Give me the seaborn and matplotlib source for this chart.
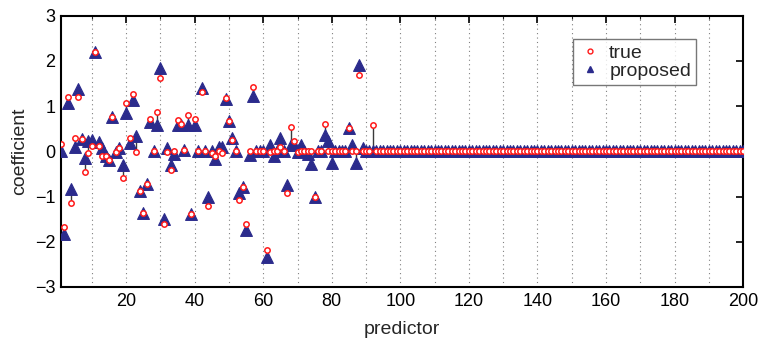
import matplotlib
matplotlib.use("Agg")
import matplotlib.pyplot as plt
import seaborn as sns
import pandas as pd
from matplotlib.lines import Line2D
from matplotlib.ticker import MultipleLocator
from matplotlib import font_manager

# ---- data ----
true_head = [0.17, -1.67, 1.20, -1.14, 0.30, 1.19, 0.28, -0.45, -0.04, 0.12,
             2.19, 0.11, -0.10, -0.11, -0.19, 0.76, -0.02, 0.08, -0.59, 1.07,
             0.29, 1.27, -0.01, -0.87, -1.37, -0.73, 0.71, 0.01, 0.86, 1.63,
             -1.61, -0.02, -0.42, 0.00, 0.70, 0.60, 0.03, 0.81, -1.39, 0.71,
             0.00, 1.30, 0.00, -1.22, -0.03, -0.10, 0.00, -0.04, 1.18, 0.68,
             0.25, 0.00, -1.07, -0.78, -1.61, 0.00, 1.41, 0.00, 0.00, 0.00,
             -2.18, -0.02, 0.00, 0.00, 0.10, 0.00, -0.93, 0.53, 0.23, -0.02,
             0.00, 0.00, 0.00, 0.00, -1.01, 0.00, 0.00, 0.61, 0.00, 0.00,
             0.00, 0.00, 0.00, 0.00, 0.51, 0.00, 0.00, 1.69, 0.00, 0.00,
             0.00, 0.59]
proposed_head = [0.00, -1.82, 1.07, -0.83, 0.10, 1.38, 0.28, -0.14, 0.22, 0.25,
                 2.19, 0.21, 0.08, -0.11, -0.19, 0.76, -0.02, 0.08, -0.30, 0.85,
                 0.18, 1.14, 0.33, -0.87, -1.37, -0.73, 0.64, 0.01, 0.59, 1.84,
                 -1.49, 0.08, -0.30, -0.06, 0.57, 0.57, 0.03, 0.57, -1.39, 0.59,
                 0.00, 1.40, 0.00, -1.00, 0.00, -0.17, 0.10, 0.10, 1.15, 0.68,
                 0.29, 0.00, -0.93, -0.78, -1.74, -0.09, 1.23, 0.00, 0.00, 0.00,
                 -2.33, 0.14, -0.11, 0.00, 0.29, 0.00, -0.74, 0.14, 0.14, -0.02,
                 0.14, 0.00, -0.05, -0.28, -1.01, 0.00, 0.00, 0.36, 0.22, -0.26,
                 0.00, 0.00, 0.00, 0.00, 0.51, 0.13, -0.26, 1.91, 0.07, 0.00,
                 0.00, 0.00]
n_predictors = 200
zero_tail = [0.0] * (n_predictors - len(true_head))   # predictors 93..200 read as 0
true_coef = true_head + zero_tail
proposed_coef = proposed_head + zero_tail
predictor = list(range(1, n_predictors + 1))
x_ticks = [20, 40, 60, 80, 100, 120, 140, 160, 180, 200]
y_ticks = [-3, -2, -1, 0, 1, 2, 3]

df = pd.DataFrame({"predictor": predictor, "true": true_coef, "proposed": proposed_coef})

sns.set_style("white")
names = {f.name for f in font_manager.fontManager.ttflist}
narrow = "Liberation Sans Narrow" if "Liberation Sans Narrow" in names else "Liberation Sans"
plt.rcParams["font.family"] = ["Liberation Sans", "DejaVu Sans"]

BLUE = "#2b2b8c"
RED = "#ff1a1a"

fig = plt.figure(figsize=(7.76, 3.41), dpi=100)
ax = fig.add_axes([0.0786, 0.1584, 0.879, 0.796])

# connecting lines between proposed and true
ax.vlines(df["predictor"], df["proposed"], df["true"], colors="#3a3a3a", lw=1.0, zorder=2)

sns.scatterplot(data=df, x="predictor", y="proposed", marker="^", s=72,
                color=BLUE, edgecolor=BLUE, linewidth=0.8, ax=ax, zorder=3, legend=False)
sns.scatterplot(data=df, x="predictor", y="true", marker="o", s=15,
                facecolor="white", edgecolor=RED, linewidth=1.1, ax=ax, zorder=4, legend=False)

ax.set_xlim(1, 200)
ax.set_ylim(-3, 3)
ax.set_xticks(x_ticks)
ax.set_yticks(y_ticks)
ax.xaxis.set_minor_locator(MultipleLocator(10))
ax.grid(False)
ax.grid(True, which="minor", axis="x", linestyle=(0, (1, 3)), color="#808080", lw=0.8)
ax.grid(True, which="major", axis="x", linestyle=(0, (1, 3)), color="#808080", lw=0.8)
ax.set_axisbelow(True)

ax.tick_params(axis="both", which="major", direction="in", length=5, width=1.2,
               top=True, right=True, labelsize=13, pad=4, colors="black")
ax.tick_params(axis="x", which="minor", direction="in", length=2.5, width=0.8, top=True)
for lab in ax.get_xticklabels():
    lab.set_fontfamily([narrow, "DejaVu Sans"])
for lab in ax.get_yticklabels():
    lab.set_fontfamily([narrow, "DejaVu Sans"])
for sp in ax.spines.values():
    sp.set_visible(True)
    sp.set_color("black")
    sp.set_linewidth(1.5)

ax.set_xlabel("predictor", fontsize=14, family=[narrow, "DejaVu Sans"], labelpad=8)
ax.set_ylabel("coefficient", fontsize=14, labelpad=5)

handles = [Line2D([], [], marker="o", linestyle="none", markersize=3.5, markerfacecolor="white",
                  markeredgecolor=RED, markeredgewidth=1.0, label="true"),
           Line2D([], [], marker="^", linestyle="none", markersize=5, color=BLUE, label="proposed")]
leg = ax.legend(handles=handles, loc="upper left", bbox_to_anchor=(0.751, 0.913),
                fontsize=14, frameon=True, fancybox=False, edgecolor="#555555",
                handletextpad=0.4, handlelength=1.2, borderpad=0.25, labelspacing=0.05,
                borderaxespad=0)
leg.get_frame().set_linewidth(1.0)

fig.savefig("out.png", dpi=100)
